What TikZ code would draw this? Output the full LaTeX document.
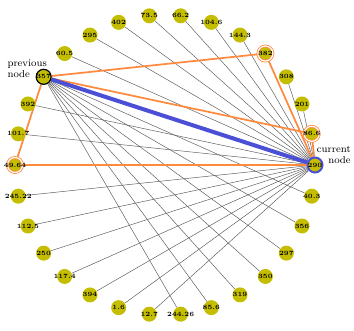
\documentclass[tikz,border=0pt]{standalone}
\usepackage{tikz}
\usetikzlibrary{positioning,backgrounds}
\definecolor{cityyellow}{HTML}{C5BE00}
\definecolor{tourorange}{HTML}{FF8A3D}
\definecolor{linkblue}{HTML}{4B4FD6}

\begin{document}
\begin{tikzpicture}[x=0.75pt,y=0.75pt,
  city/.style={circle,fill=cityyellow,minimum size=11.25pt,inner sep=0pt,
    font=\fontsize{4.8}{5}\selectfont\bfseries},
  plain/.style={},
  visited/.style={draw=tourorange,double=white,double distance=0.9pt,line width=0.6pt},
  previous/.style={draw=black,line width=0.9pt},
  current/.style={draw=linkblue,line width=1.5pt},
  link/.style={black!65,line width=0.35pt},
  tour/.style={tourorange,line width=1.3pt},
  note/.style={font=\fontsize{7.6}{8.4}\selectfont,inner sep=0pt}]
  \useasboundingbox (-165,-166) rectangle (189,165);
  % Cities on the circle, 12 deg apart
  \foreach \lab/\kind [count=\i from 0] in {290/current, 86.6/visited,
    201/plain, 308/plain, 382/visited, 144.3/plain, 104.6/plain, 66.2/plain,
    73.5/plain, 402/plain, 295/plain, 60.5/plain, 357/previous, 392/plain,
    101.7/plain, 49.64/visited, 245.22/plain, 112.5/plain, 250/plain,
    117.4/plain, 394/plain, 1.6/plain, 12.7/plain, 244.26/plain, 85.6/plain,
    319/plain, 350/plain, 297/plain, 356/plain, 40.3/plain}
    \node[city,\kind] (n\i) at (\i*12:150) {\makebox[0pt]{\lab}};
  % Labels
  \node[note,anchor=south east,align=left] (prevlab)
    at ([shift={(3.4,-1.2)}]n12.center) {previous\\node};
  \node[note,anchor=south east,align=right] (currlab)
    at ([shift={(36,1)}]n0.center) {current\\node};
  \begin{scope}[on background layer]
    % Candidate links
    \foreach \k in {2,3,5,6,...,11,13,14,16,17,...,22}
      \draw[link] (n0) -- (n\k);
    \foreach \k in {23,...,29}
      \draw[link] (n12) -- (n\k);
    % Tours through the visited cities
    \foreach \k in {4,1,15} {
      \draw[tour] (n12) -- (n\k);
      \draw[tour] (n\k) -- (n0);
    }
    % Last move
    \draw[linkblue,line width=3pt] (n12) -- (n0);
  \end{scope}
\end{tikzpicture}
\end{document}
